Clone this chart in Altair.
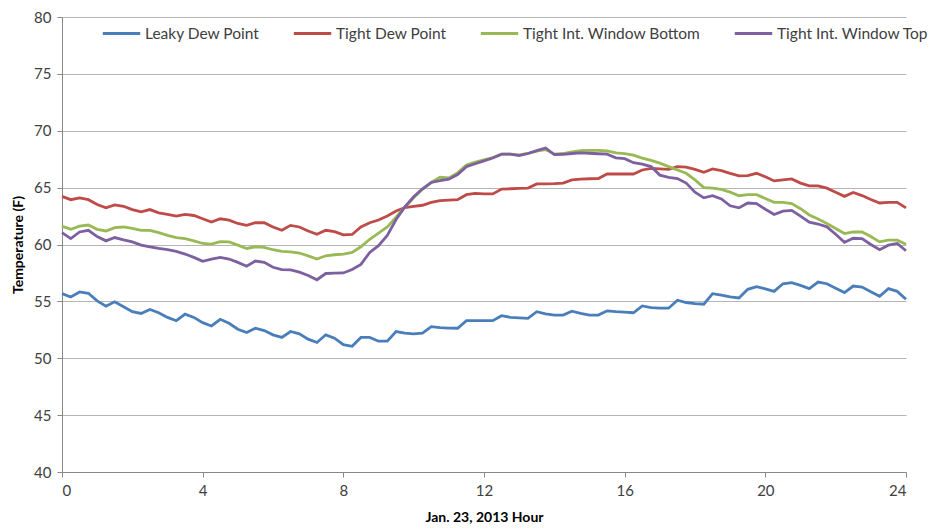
import altair as alt
import pandas as pd

hours = [i * 0.25 for i in range(97)]

leaky_dew = [55.68, 55.39, 55.83, 55.71, 55.04, 54.58, 54.96, 54.52, 54.09, 53.94, 54.29, 54.0,
             53.59, 53.3, 53.88, 53.59, 53.13, 52.84, 53.42, 53.07, 52.55, 52.26, 52.64, 52.43,
             52.06, 51.83, 52.35, 52.14, 51.68, 51.39, 52.06, 51.77, 51.19, 51.05, 51.83, 51.83,
             51.5, 51.5, 52.35, 52.2, 52.14, 52.2, 52.78, 52.7, 52.65, 52.64, 53.3, 53.3,
             53.3, 53.3, 53.74, 53.6, 53.55, 53.5, 54.09, 53.9, 53.8, 53.8, 54.14, 53.95,
             53.8, 53.8, 54.17, 54.1, 54.05, 54.0, 54.6, 54.45, 54.4, 54.4, 55.1, 54.9,
             54.8, 54.75, 55.68, 55.55, 55.4, 55.3, 56.06, 56.3, 56.1, 55.88, 56.55, 56.64,
             56.4, 56.12, 56.7, 56.55, 56.15, 55.77, 56.35, 56.26, 55.85, 55.45, 56.12, 55.88,
             55.19]

tight_dew = [64.23, 63.94, 64.09, 63.94, 63.51, 63.22, 63.48, 63.36, 63.07, 62.87, 63.07, 62.78,
             62.64, 62.49, 62.64, 62.55, 62.26, 61.97, 62.26, 62.14, 61.85, 61.68, 61.91, 61.91,
             61.54, 61.25, 61.68, 61.54, 61.19, 60.9, 61.25, 61.13, 60.85, 60.88, 61.54, 61.91,
             62.15, 62.5, 62.95, 63.25, 63.35, 63.45, 63.71, 63.86, 63.9, 63.94, 64.38, 64.5,
             64.45, 64.45, 64.87, 64.9, 64.93, 64.96, 65.33, 65.33, 65.35, 65.4, 65.68, 65.75,
             65.78, 65.8, 66.2, 66.2, 66.2, 66.2, 66.55, 66.7, 66.65, 66.6, 66.84, 66.8,
             66.6, 66.35, 66.64, 66.5, 66.25, 66.03, 66.06, 66.26, 65.95, 65.59, 65.68, 65.77,
             65.4, 65.16, 65.16, 64.95, 64.6, 64.23, 64.58, 64.3, 63.95, 63.65, 63.71, 63.71,
             63.22]

window_bottom = [61.62, 61.33, 61.62, 61.71, 61.33, 61.19, 61.48, 61.54, 61.42, 61.25, 61.25, 61.04,
                 60.81, 60.61, 60.52, 60.32, 60.09, 60.03, 60.26, 60.23, 59.94, 59.65, 59.8, 59.74,
                 59.54, 59.39, 59.36, 59.25, 59.0, 58.72, 59.01, 59.1, 59.16, 59.3, 59.8, 60.46,
                 61.0, 61.55, 62.4, 63.3, 64.1, 64.85, 65.45, 65.91, 65.85, 66.3, 66.99, 67.25,
                 67.45, 67.65, 67.94, 67.94, 67.88, 68.0, 68.2, 68.35, 67.94, 68.0, 68.15, 68.25,
                 68.28, 68.28, 68.22, 68.05, 67.98, 67.86, 67.6, 67.4, 67.15, 66.85, 66.55, 66.26,
                 65.68, 65.0, 64.96, 64.85, 64.6, 64.29, 64.38, 64.38, 64.05, 63.71, 63.71, 63.6,
                 63.15, 62.6, 62.25, 61.85, 61.4, 60.96, 61.1, 61.1, 60.7, 60.23, 60.38, 60.38,
                 60.03]

window_top = [61.04, 60.52, 61.1, 61.25, 60.7, 60.32, 60.61, 60.41, 60.23, 59.94, 59.8, 59.65,
              59.54, 59.39, 59.16, 58.87, 58.52, 58.72, 58.87, 58.72, 58.43, 58.09, 58.55, 58.43,
              58.0, 57.8, 57.77, 57.57, 57.28, 56.9, 57.45, 57.48, 57.5, 57.8, 58.25, 59.3,
              59.9, 60.8, 62.2, 63.3, 64.2, 64.9, 65.45, 65.62, 65.74, 66.15, 66.84, 67.1,
              67.35, 67.6, 67.94, 67.94, 67.82, 68.0, 68.25, 68.49, 67.91, 67.93, 68.0, 68.06,
              68.02, 67.98, 67.94, 67.62, 67.55, 67.19, 67.07, 66.85, 66.1, 65.9, 65.8, 65.4,
              64.6, 64.1, 64.29, 64.0, 63.4, 63.22, 63.65, 63.6, 63.1, 62.64, 62.93, 63.0,
              62.5, 61.97, 61.8, 61.55, 60.9, 60.2, 60.55, 60.52, 60.0, 59.54, 59.94, 60.09,
              59.45]

series_names = ["Leaky Dew Point", "Tight Dew Point", "Tight Int. Window Bottom", "Tight Int. Window Top"]
series_values = [leaky_dew, tight_dew, window_bottom, window_top]
series_colors = ["#4A7EBB", "#BE4B48", "#98B954", "#7D60A0"]

rows = []
for name, vals in zip(series_names, series_values):
    assert len(vals) == len(hours)
    for h, v in zip(hours, vals):
        rows.append({"hour": h, "temp": v, "series": name})
df = pd.DataFrame(rows)

FONT = "Lato"

chart = alt.Chart(df).mark_line(strokeWidth=2.8).encode(
    x=alt.X("hour:Q",
            scale=alt.Scale(domain=[0, 24], nice=False, zero=False),
            axis=alt.Axis(values=[0, 4, 8, 12, 16, 20, 24], title="Jan. 23, 2013 Hour",
                          grid=False, tickSize=5, labelPadding=6, titlePadding=12,
                          format="d")),
    y=alt.Y("temp:Q",
            scale=alt.Scale(domain=[40, 80], nice=False, zero=False),
            axis=alt.Axis(values=[40, 45, 50, 55, 60, 65, 70, 75, 80], title="Temperature (F)",
                          grid=True, tickSize=5, labelPadding=6, titlePadding=8)),
    color=alt.Color("series:N",
                    scale=alt.Scale(domain=series_names, range=series_colors),
                    legend=alt.Legend(title=None, orient="none", legendX=39, legendY=-4,
                                      direction="horizontal", symbolType="stroke",
                                      symbolSize=1400, symbolStrokeWidth=3,
                                      labelFontSize=15.5, labelFont=FONT, labelColor="#404040",
                                      labelLimit=400,
                                      columnPadding=27, labelOffset=3, padding=0)),
).properties(
    width=844, height=455,
    autosize=alt.AutoSizeParams(type="none"),
    padding={"left": 54, "top": 9, "right": 24, "bottom": 57},
).configure_axis(
    labelFont=FONT, labelFontSize=15, labelColor="#404040",
    titleFont=FONT, titleFontSize=14, titleFontWeight="bold", titleColor="#000000",
    domainColor="#888888", tickColor="#888888", gridColor="#b5b5b5", gridWidth=1,
).configure_view(stroke=None)

chart.save("out.html", embed_options={"renderer": "svg", "actions": False})
